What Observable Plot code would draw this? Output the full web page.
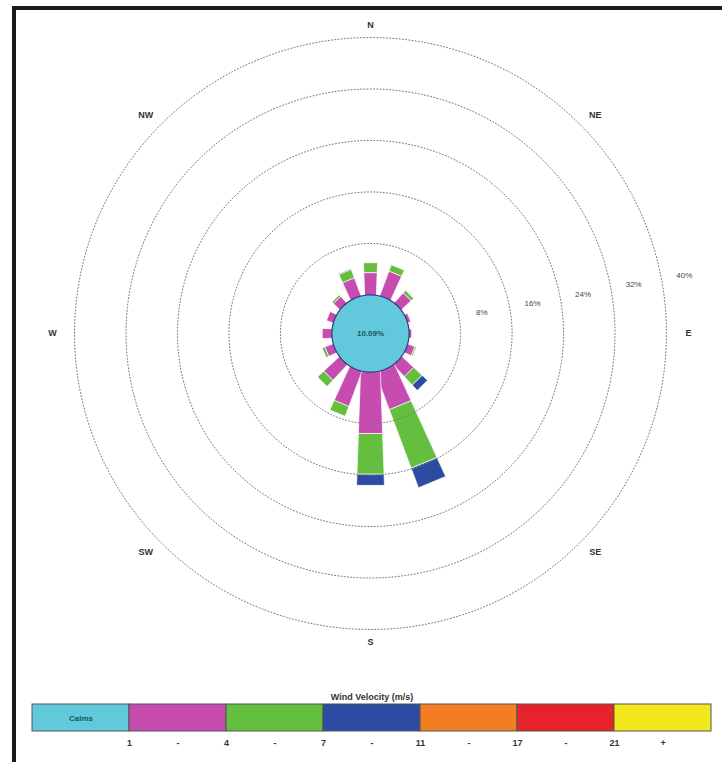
<!DOCTYPE html>
<html><head><meta charset="utf-8">
<script src="https://cdn.jsdelivr.net/npm/d3@7"></script>
<script src="https://cdn.jsdelivr.net/npm/@observablehq/plot@0.6"></script>
<style>
html,body{margin:0;padding:0;background:#fff;}
body{width:722px;height:762px;position:relative;overflow:hidden;font-family:"Liberation Sans",Arial,sans-serif;}
#topbar{position:absolute;left:12px;top:6px;width:710px;height:4px;background:#1b1b1b;}
#leftbar{position:absolute;left:12px;top:6px;width:4px;height:756px;background:#1b1b1b;}
#rose{position:absolute;left:0;top:0;}
#legend{position:absolute;left:0;top:680px;}
svg{font-family:"Liberation Sans",Arial,sans-serif;}
</style></head><body>
<div id="rose"></div><div id="legend"></div>
<div id="topbar"></div><div id="leftbar"></div>
<script>
// ---- data ----
const directions = ["N","NNE","NE","ENE","E","ESE","SE","SSE","S","SSW","SW","WSW","W","WNW","NW","NNW"];
const speed1to4  = [3.5, 4.1, 2.1, 0.5, 0.4, 1.2, 2.5, 6.1, 9.6, 5.8, 3.3, 1.4, 1.5, 1.1, 1.4, 3.0];
const speed4to7  = [1.5, 1.0, 0.5, 0.0, 0.0, 0.2, 1.8, 9.7, 6.3, 1.6, 1.3, 0.4, 0.0, 0.0, 0.3, 1.4];
const speed7to11 = [0.0, 0.0, 0.0, 0.0, 0.0, 0.0, 1.1, 3.2, 1.7, 0.0, 0.0, 0.0, 0.0, 0.0, 0.0, 0.1];
const calmPercent = 10.09;
const ringValues = [8, 16, 24, 32, 40];
const ringLabels = ["8%", "16%", "24%", "32%", "40%"];
const compassLabels = ["N", "NE", "E", "SE", "S", "SW", "W", "NW"];
const compassBearings = [0, 45, 90, 135, 180, 225, 270, 315];
const speedClasses = ["Calms", "1-4", "4-7", "7-11", "11-17", "17-21", "21+"];
const classColors = ["#62c8dc", "#c74caf", "#64bf3e", "#2e4ba3", "#f27d23", "#e6232a", "#f3e81b"];
const legendTicks = ["1", "-", "4", "-", "7", "-", "11", "-", "17", "-", "21", "+"];
const legendTitle = "Wind Velocity (m/s)";

// ---- layout ----
const W = 722, H = 680, cx = 370, cy = 333;
const k = 6.435;          // px per unit
const base = 6;           // calm circle radius (units) = 0%
const rad = Math.PI / 180;
// petal width (px) grows with petal length and slightly with radius
const petalWidth = (L, r) => 8.5 + 0.65 * L + 0.07 * (r - base) * k;

const series = [speed1to4, speed4to7, speed7to11];
const polys = [];
directions.forEach((dir, i) => {
  const th = i * 22.5 * rad;
  const u = [Math.sin(th), Math.cos(th)], p = [Math.cos(th), -Math.sin(th)];
  const L = series.reduce((s, vals) => s + vals[i], 0);
  let r0 = base;
  series.forEach((vals, j) => {
    const v = vals[i];
    if (v > 0) {
      const r1 = r0 + v;
      const rs = j === 0 ? base - 1.5 : r0;
      const h0 = petalWidth(L, rs) / 2 / k, h1 = petalWidth(L, r1) / 2 / k;
      const pts = [
        {x: rs * u[0] + h0 * p[0], y: rs * u[1] + h0 * p[1]},
        {x: r1 * u[0] + h1 * p[0], y: r1 * u[1] + h1 * p[1]},
        {x: r1 * u[0] - h1 * p[0], y: r1 * u[1] - h1 * p[1]},
        {x: rs * u[0] - h0 * p[0], y: rs * u[1] - h0 * p[1]}
      ];
      pts.forEach(q => polys.push({...q, id: dir + "-" + j, color: classColors[j + 1]}));
      r0 = r1;
    }
  });
});

const circlePts = (r, id) => d3.range(0, 361, 2).map(a => ({x: r * Math.sin(a * rad), y: r * Math.cos(a * rad), id}));
const ringPts = ringValues.flatMap(v => circlePts(base + v, "ring" + v));
const calmPts = circlePts(base, "calm");
const ringLabelData = ringValues.map((v, i) => ({
  x: (base + v + 3.6) * Math.sin(79.5 * rad),
  y: (base + v + 3.6) * Math.cos(79.5 * rad),
  label: ringLabels[i]
}));
const compassData = compassLabels.map((l, i) => ({
  x: 49.4 * Math.sin(compassBearings[i] * rad),
  y: 48.0 * Math.cos(compassBearings[i] * rad),
  label: l
}));

const rose = Plot.plot({
  width: W, height: H, margin: 0,
  x: {domain: [-cx / k, (W - cx) / k], axis: null},
  y: {domain: [-(H - cy) / k, cy / k], axis: null},
  color: {type: "identity"},
  style: {background: "transparent"},
  marks: [
    Plot.line(polys, {x: "x", y: "y", z: "id", fill: "color", stroke: "#ffffff", strokeWidth: 0.7, curve: "linear-closed"}),
    Plot.line(ringPts, {x: "x", y: "y", z: "id", stroke: "#777", strokeWidth: 1, strokeDasharray: "1,2.2", curve: "linear-closed"}),
    Plot.line(calmPts, {x: "x", y: "y", z: "id", fill: classColors[0], stroke: "#2d3a7a", strokeWidth: 1.2, curve: "linear-closed"}),
    Plot.text([calmPercent], {x: () => 0, y: () => 0, text: d => d.toFixed(2) + "%", fontSize: 8, fontWeight: "bold", fill: "#1c5560"}),
    Plot.text(ringLabelData, {x: "x", y: "y", text: "label", fontSize: 8, fill: "#444"}),
    Plot.text(compassData, {x: "x", y: "y", text: "label", fontSize: 9, fontWeight: "bold", fill: "#333"})
  ]
});
document.getElementById("rose").appendChild(rose);

// ---- legend ----
const cells = speedClasses.map((c, i) => ({i, c, color: classColors[i]}));
const tickData = legendTicks.map((t, i) => ({pos: 1 + i * 0.5, t}));
const legend = Plot.plot({
  width: W, height: 82,
  marginTop: 24, marginBottom: 31, marginLeft: 32, marginRight: 11,
  x: {domain: [0, 7], axis: null},
  color: {type: "identity"},
  marks: [
    Plot.rectX(cells, {x1: "i", x2: d => d.i + 1, fill: "color", stroke: "#555", strokeWidth: 1}),
    Plot.text([speedClasses[0]], {x: () => 0.5, frameAnchor: "middle", text: d => d, fontSize: 8, fontWeight: "bold", fill: "#1c5560"}),
    Plot.text([legendTitle], {x: () => 3.5, frameAnchor: "top", dy: -11, text: d => d, fontSize: 9, fontWeight: "bold", fill: "#333"}),
    Plot.text(tickData, {x: "pos", frameAnchor: "bottom", dy: 14, text: "t", fontSize: 9, fontWeight: "bold", fill: "#333"})
  ]
});
document.getElementById("legend").appendChild(legend);
</script>
</body></html>
